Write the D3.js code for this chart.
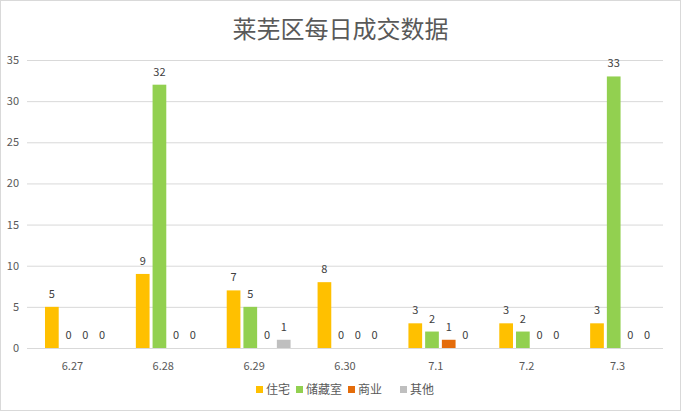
<!DOCTYPE html>
<html><head><meta charset="utf-8">
<script src="https://cdn.jsdelivr.net/npm/d3@7"></script>
<style>body{margin:0;background:#fff}svg{font-family:"Noto Sans CJK SC","Microsoft YaHei",sans-serif}</style>
</head><body>
<script>
let categories = ["6.27", "6.28", "6.29", "6.30", "7.1", "7.2", "7.3"]
let seriesNames = ["住宅", "储藏室", "商业", "其他"]
let zhuzhai = [5, 9, 7, 8, 3, 3, 3]
let chucangshi = [0, 32, 5, 0, 2, 2, 33]
let shangye = [0, 0, 0, 0, 1, 0, 0]
let qita = [0, 0, 1, 0, 0, 0, 0]
let yTicks = [0, 5, 10, 15, 20, 25, 30, 35]
let COLORS = ["#FFC000", "#92D050", "#E46C0A", "#BFBFBF"]
let allSeries = [zhuzhai, chucangshi, shangye, qita]

let w = 681, h = 411
let plotLeft = 27, plotRight = 663, plotTop = 60, plotBottom = 348

let svg = d3.select("body").append("svg").attr("width", w).attr("height", h)

svg.append("rect").attr("x", 0.5).attr("y", 0.5).attr("width", w - 1).attr("height", h - 1)
  .attr("fill", "#fff").attr("stroke", "#d9d9d9")

svg.append("text").attr("x", w / 2).attr("y", 38).attr("text-anchor", "middle")
  .attr("font-size", 24).attr("fill", "#595959").text("莱芜区每日成交数据")

let x = d3.scaleBand().domain(categories).range([plotLeft, plotRight])
let x1 = d3.scaleBand().domain(d3.range(4)).range([18, x.bandwidth() - 9]).paddingInner(0.18)
let y = d3.scaleLinear().domain([0, 35]).range([plotBottom, plotTop])

// grid
svg.append("g").selectAll("line").data(yTicks).enter().append("line")
  .attr("x1", plotLeft).attr("x2", plotRight)
  .attr("y1", d => y(d) + 0.5).attr("y2", d => y(d) + 0.5)
  .attr("stroke", "#d9d9d9")

svg.append("g").selectAll("text").data(yTicks).enter().append("text")
  .attr("x", 19).attr("y", d => y(d) + 4).attr("text-anchor", "end")
  .attr("font-size", 11).attr("fill", "#595959").text(d => d)

svg.append("g").selectAll("text").data(categories).enter().append("text")
  .attr("x", d => x(d) + x.bandwidth() / 2).attr("y", 370).attr("text-anchor", "middle")
  .attr("font-size", 11).attr("fill", "#595959").text(d => d)

let groups = svg.append("g").selectAll("g").data(categories).enter().append("g")
  .attr("transform", d => "translate(" + x(d) + ",0)")

groups.selectAll("rect").data((c, i) => allSeries.map((s, k) => ({k, v: s[i]}))).enter().append("rect")
  .attr("x", d => x1(d.k)).attr("width", x1.bandwidth())
  .attr("y", d => y(d.v)).attr("height", d => plotBottom - y(d.v))
  .attr("fill", d => COLORS[d.k])

groups.selectAll("text").data((c, i) => allSeries.map((s, k) => ({k, v: s[i]}))).enter().append("text")
  .attr("x", d => x1(d.k) + x1.bandwidth() / 2).attr("y", d => y(d.v) - 9)
  .attr("text-anchor", "middle").attr("font-size", 11).attr("fill", "#404040").text(d => d.v)

// legend
let legendX = [256, 296, 348, 400]
let legend = svg.append("g").selectAll("g").data(seriesNames).enter().append("g")
  .attr("transform", (d, i) => "translate(" + legendX[i] + ",385)")
legend.append("rect").attr("width", 7).attr("height", 7).attr("y", 1).attr("fill", (d, i) => COLORS[i])
legend.append("text").attr("x", 10).attr("y", 9).attr("font-size", 12).attr("fill", "#595959").text(d => d)
</script>
</body></html>
